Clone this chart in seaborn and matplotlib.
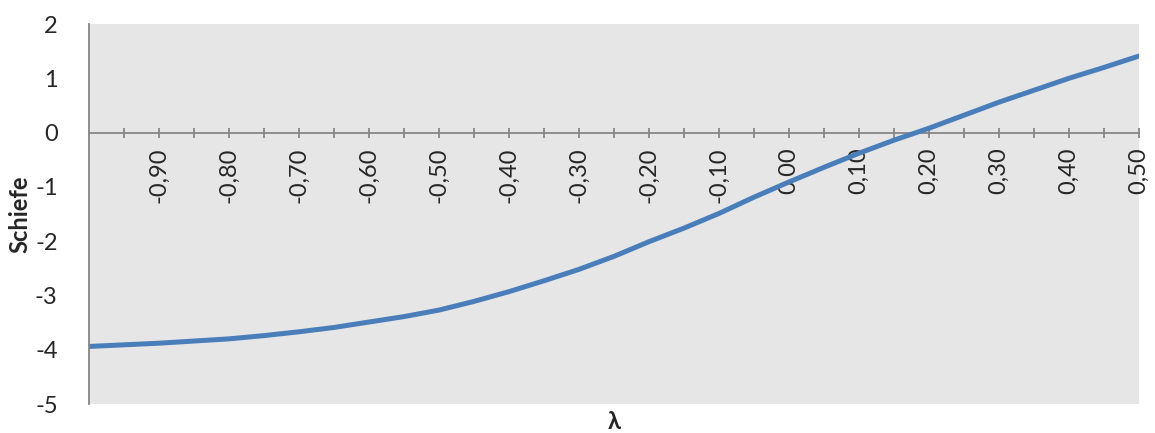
import numpy as np
import pandas as pd
import matplotlib
matplotlib.use("Agg")
import matplotlib.pyplot as plt
import seaborn as sns
from matplotlib.ticker import FixedLocator, FuncFormatter

# data
lam = [-1.00, -0.95, -0.90, -0.85, -0.80, -0.75, -0.70, -0.65, -0.60, -0.55,
       -0.50, -0.45, -0.40, -0.35, -0.30, -0.25, -0.20, -0.15, -0.10, -0.05,
       0.00, 0.05, 0.10, 0.15, 0.20, 0.25, 0.30, 0.35, 0.40, 0.45, 0.50]
schiefe = [-3.94, -3.91, -3.88, -3.84, -3.80, -3.74, -3.67, -3.59, -3.49, -3.39,
           -3.27, -3.11, -2.93, -2.73, -2.52, -2.28, -2.01, -1.76, -1.49, -1.19,
           -0.91, -0.64, -0.38, -0.14, 0.08, 0.32, 0.56, 0.78, 1.00, 1.20, 1.41]
x_ticks = [-0.95, -0.90, -0.85, -0.80, -0.75, -0.70, -0.65, -0.60, -0.55, -0.50,
           -0.45, -0.40, -0.35, -0.30, -0.25, -0.20, -0.15, -0.10, -0.05, 0.00,
           0.05, 0.10, 0.15, 0.20, 0.25, 0.30, 0.35, 0.40, 0.45, 0.50]
x_labels = ["-0,90", "-0,80", "-0,70", "-0,60", "-0,50", "-0,40", "-0,30", "-0,20",
            "-0,10", "0,00", "0,10", "0,20", "0,30", "0,40", "0,50"]
y_ticks = [-5, -4, -3, -2, -1, 0, 1, 2]

sns.set_style("white")
plt.rcParams['font.family'] = ['Lato', 'DejaVu Sans']

df = pd.DataFrame({"lam": lam, "schiefe": schiefe})

fig = plt.figure(figsize=(11.55, 4.33), dpi=100)
ax = fig.add_axes([89/1155, 1-404/433, 1050/1155, 380/433])
ax.set_facecolor("#e6e6e6")

sns.lineplot(data=df, x="lam", y="schiefe", ax=ax, color="#4a7ebb", linewidth=3.6)

ax.set_xlim(-1.0, 0.5)
ax.set_ylim(-5, 2)

gray = "#868686"
for s in ["top", "right"]:
    ax.spines[s].set_visible(False)
ax.spines["left"].set_color(gray)
ax.spines["left"].set_linewidth(1.3)
ax.spines["bottom"].set_position(("data", 0))
ax.spines["bottom"].set_color(gray)
ax.spines["bottom"].set_linewidth(1.3)
ax.spines["bottom"].set_zorder(1)

# x ticks: all marks every 0.05, labels every 0.1
ax.xaxis.set_major_locator(FixedLocator(x_ticks))
lab_map = {round(float(l.replace(",", ".")), 2): l for l in x_labels}
ax.xaxis.set_major_formatter(FuncFormatter(lambda v, p: lab_map.get(round(v, 2), "")))
ax.tick_params(axis="x", direction="inout", length=7, width=1.3, color=gray,
               labelsize=17, labelrotation=90, pad=7, bottom=True)
for t in ax.get_xticklabels():
    t.set_va("top")

ax.set_yticks(y_ticks)
ax.yaxis.set_major_formatter(FuncFormatter(lambda v, p: f"{int(round(v))}"))
ax.tick_params(axis="y", left=False, labelsize=17, pad=19)

ax.set_xlabel("λ", fontsize=17, fontweight="bold", va="center")
ax.set_ylabel("Schiefe", fontsize=17, fontweight="bold", va="center")
ax.xaxis.set_label_coords(0.5, -0.047)
ax.yaxis.set_label_coords(-0.066, 0.5)

fig.savefig("out.png", dpi=100, facecolor="white")
